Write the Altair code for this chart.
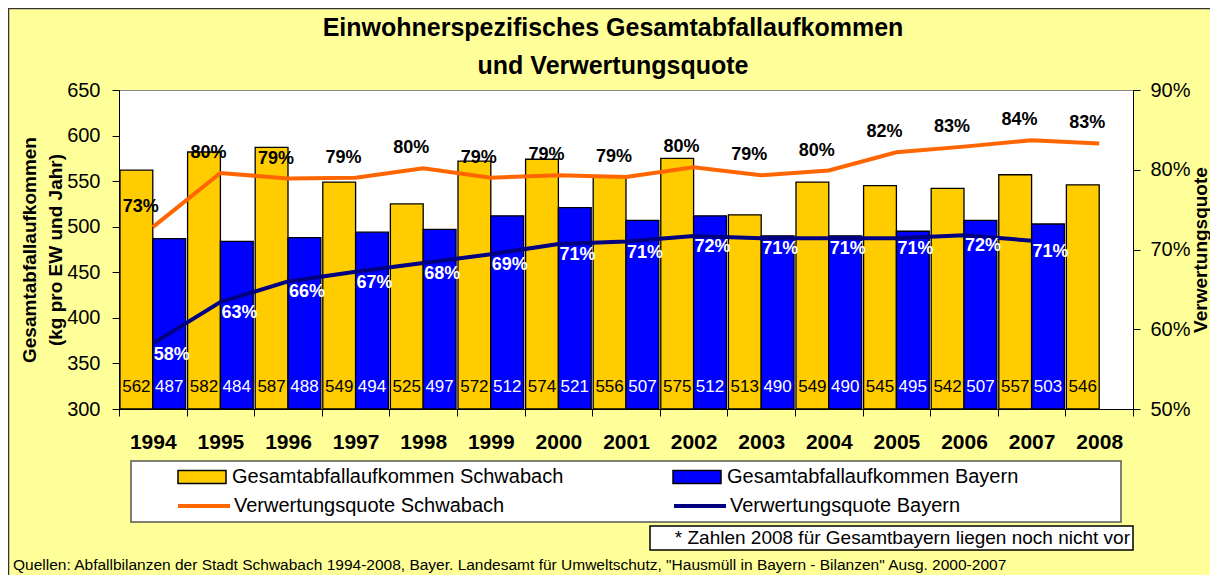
import altair as alt
import pandas as pd

jahre = [str(y) for y in range(1994, 2009)]
abfall_schwabach = [562, 582, 587, 549, 525, 572, 574, 556, 575, 513, 549, 545, 542, 557, 546]
abfall_bayern = [487, 484, 488, 494, 497, 512, 521, 507, 512, 490, 490, 495, 507, 503, None]
quote_schwabach = [0.728, 0.796, 0.789, 0.790, 0.802, 0.790, 0.793, 0.791, 0.803, 0.793, 0.799, 0.822, 0.829, 0.837, 0.833]
quote_bayern = [0.582, 0.634, 0.660, 0.672, 0.683, 0.694, 0.707, 0.710, 0.717, 0.714, 0.714, 0.714, 0.718, 0.711, None]

S_BAR = "Gesamtabfallaufkommen Schwabach"
B_BAR = "Gesamtabfallaufkommen Bayern"
S_LINE = "Verwertungsquote Schwabach"
B_LINE = "Verwertungsquote Bayern"
titel = ["Einwohnerspezifisches Gesamtabfallaufkommen", "und Verwertungsquote"]
y_titel = ["Gesamtabfallaufkommen", "(kg pro EW und Jahr)"]
y2_titel = "Verwertungsquote"
fussnote = "* Zahlen 2008 für Gesamtbayern liegen noch nicht vor"
quelle = ('Quellen: Abfallbilanzen der Stadt Schwabach 1994-2008, Bayer. Landesamt für Umweltschutz, '
          '"Hausmüll in Bayern - Bilanzen" Ausg. 2000-2007')
y_ticks = [300, 350, 400, 450, 500, 550, 600, 650]
y2_ticks = [0.50, 0.55, 0.60, 0.65, 0.70, 0.75, 0.80, 0.85, 0.90]

FONT = "Liberation Sans"
GELB = "#FFCC00"
BLAU = "#0000FF"
ORANGE = "#FF6600"
NAVY = "#000080"

df = pd.DataFrame({
    "Jahr": jahre,
    "AS": abfall_schwabach,
    "AB": abfall_bayern,
    "QS": quote_schwabach,
    "QB": quote_bayern,
})
base = alt.Chart(df)

x_enc = alt.X("Jahr:O", sort=jahre,
              scale=alt.Scale(paddingInner=0, paddingOuter=0),
              axis=alt.Axis(title=None, labelAngle=0, labelFontSize=21, labelFontWeight="bold",
                            labelFont=FONT, labelColor="black", labelPadding=15, tickSize=7,
                            tickBand="extent", domainColor="black", tickColor="black"))
xoff = alt.XOffset("serie:N", scale=alt.Scale(domain=[S_BAR, B_BAR], paddingInner=0, paddingOuter=0.03))

y_left_scale = alt.Scale(domain=[300, 650], nice=False, zero=False)
y_left_axis = alt.Axis(orient="left", values=y_ticks, grid=False, labelFontSize=20, labelFont=FONT,
                       labelColor="black", labelPadding=12, tickSize=7, tickColor="black",
                       domainColor="black", titleFontSize=19, titleFont=FONT, titleFontWeight="bold",
                       titleColor="black", titleAngle=270, titleBaseline="bottom", titleAlign="center",
                       titleX=-80, titleY=159.5, titleLineHeight=26)
y2_scale = alt.Scale(domain=[0.5, 0.9], nice=False, zero=False)
y2_axis = alt.Axis(orient="right", values=y2_ticks, format=".0%", grid=False, labelFontSize=20,
                   labelFont=FONT, labelColor="black", labelPadding=10, tickSize=7, tickColor="black",
                   domainColor="black", titleFontSize=19, titleFont=FONT, titleFontWeight="bold",
                   titleColor="black", titleAngle=270, titleBaseline="top", titleAlign="center",
                   titleX=58, titleY=159.5)

def legend(x, y, sym, size, sw, off):
    return alt.Legend(orient="none", legendX=x, legendY=y, title=None, symbolType=sym,
                      symbolSize=size, symbolStrokeWidth=sw, labelFontSize=20, labelFont=FONT,
                      labelColor="black", labelOffset=off, labelLimit=700, padding=0)

RECT_PATH = "M-1,-0.27H1V0.27H-1Z"

bar_s = base.transform_calculate(serie=f"'{S_BAR}'").mark_bar(stroke="black", strokeWidth=1.3).encode(
    x=x_enc, xOffset=xoff,
    y=alt.Y("AS:Q", scale=y_left_scale, axis=y_left_axis, title=y_titel),
    y2=alt.datum(300),
    fill=alt.Fill("serie:N", scale=alt.Scale(domain=[S_BAR], range=[GELB]),
                  legend=legend(58, 362, RECT_PATH, 2304, 1.5, 5)),
)
bar_b = base.transform_filter("isValid(datum.AB)").transform_calculate(serie=f"'{B_BAR}'").mark_bar(
    stroke="black", strokeWidth=1.3).encode(
    x=x_enc, xOffset=xoff,
    y=alt.Y("AB:Q", scale=y_left_scale, axis=y_left_axis, title=y_titel),
    y2=alt.datum(300),
    fill=alt.Fill("serie:N", scale=alt.Scale(domain=[B_BAR], range=[BLAU]),
                  legend=legend(553, 362, RECT_PATH, 2304, 1.5, 5)),
)
txt_s = base.transform_calculate(serie=f"'{S_BAR}'").mark_text(
    fontSize=17, font=FONT, color="black", baseline="middle", dy=-22).encode(
    x=x_enc, xOffset=xoff, y=alt.datum(300), text=alt.Text("AS:Q", format="d"))
txt_b = base.transform_filter("isValid(datum.AB)").transform_calculate(serie=f"'{B_BAR}'").mark_text(
    fontSize=17, font=FONT, color="white", baseline="middle", dy=-22).encode(
    x=x_enc, xOffset=xoff, y=alt.datum(300), text=alt.Text("AB:Q", format="d"))

left = alt.layer(bar_s, bar_b, txt_s, txt_b).resolve_scale(fill="independent")

line_s = base.transform_calculate(serie=f"'{S_LINE}'").mark_line(strokeWidth=4).encode(
    x=x_enc,
    y=alt.Y("QS:Q", scale=y2_scale, axis=y2_axis, title=y2_titel),
    stroke=alt.Stroke("serie:N", scale=alt.Scale(domain=[S_LINE], range=[ORANGE]),
                      legend=legend(57, 388, "stroke", 2704, 4, 2)),
)
line_b = base.transform_filter("isValid(datum.QB)").transform_calculate(serie=f"'{B_LINE}'").mark_line(
    strokeWidth=4).encode(
    x=x_enc,
    y=alt.Y("QB:Q", scale=y2_scale, axis=y2_axis, title=y2_titel),
    stroke=alt.Stroke("serie:N", scale=alt.Scale(domain=[B_LINE], range=[NAVY]),
                      legend=legend(553, 388, "stroke", 2704, 4, 2)),
)
lbl_s = base.mark_text(fontSize=18, font=FONT, fontWeight="bold", color="black",
                       baseline="middle", dx=-12, dy=-20).encode(
    x=x_enc, y=alt.Y("QS:Q", scale=y2_scale), text=alt.Text("QS:Q", format=".0%"))
lbl_b = base.transform_filter("isValid(datum.QB)").mark_text(
    fontSize=18, font=FONT, fontWeight="bold", color="white", baseline="middle", dx=19, dy=11).encode(
    x=x_enc, y=alt.Y("QB:Q", scale=y2_scale), text=alt.Text("QB:Q", format=".0%"))

right = alt.layer(line_s, line_b, lbl_s, lbl_b).resolve_scale(stroke="independent")

one = alt.Chart(pd.DataFrame({"t": [fussnote], "q": [quelle]}))
frame = one.mark_rect(fill=None, stroke="#333333", strokeWidth=1.5).encode(
    x=alt.value(-110.5), x2=alt.value(1200), y=alt.value(-81.5), y2=alt.value(600))
leg_box = one.mark_rect(fill="white", stroke="#555555", strokeWidth=1.5).encode(
    x=alt.value(12), x2=alt.value(1002), y=alt.value(371), y2=alt.value(432))
fn_box = one.mark_rect(fill="white", stroke="black", strokeWidth=1.5).encode(
    x=alt.value(531), x2=alt.value(1014), y=alt.value(436), y2=alt.value(460))
fn_txt = one.mark_text(fontSize=19, font=FONT, color="black", align="right", baseline="middle").encode(
    x=alt.value(1011), y=alt.value(448), text="t:N")
src_txt = one.mark_text(fontSize=15.5, font=FONT, color="black", align="left", baseline="middle").encode(
    x=alt.value(-106), y=alt.value(475), text="q:N")
deco = alt.layer(frame, leg_box, fn_box, fn_txt, src_txt)

chart = alt.layer(deco, left, right).resolve_scale(
    y="independent", fill="independent", stroke="independent"
).properties(
    width=1014, height=319,
    padding={"left": 111, "top": 82, "right": 77, "bottom": 166},
    autosize=alt.AutoSizeParams(type="none"),
    background="#FFFF99",
    title=alt.TitleParams(text=titel, fontSize=25, fontWeight="bold", font=FONT, color="black",
                          anchor="middle", frame="group", dx=-13, offset=-96, baseline="bottom",
                          lineHeight=38),
).configure_view(fill="white", stroke="#888888", strokeWidth=1)

chart.save("out.html", embed_options={"renderer": "svg", "actions": False})
